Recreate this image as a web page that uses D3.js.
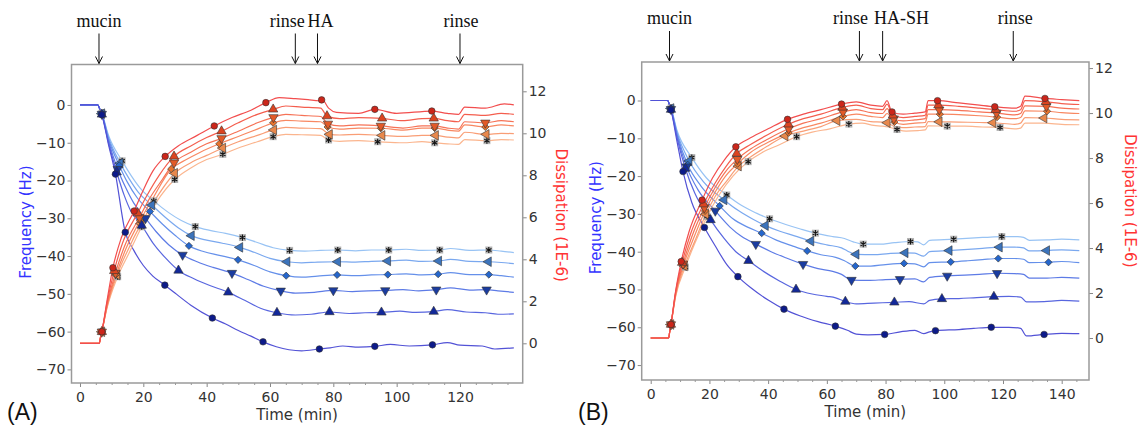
<!DOCTYPE html>
<html>
<head>
<meta charset="utf-8">
<script src="https://cdn.jsdelivr.net/npm/d3@7"></script>
<style>
html, body { margin: 0; padding: 0; background: #fff; }
svg { display: block; font-family: "DejaVu Sans", Verdana, sans-serif; }
</style>
</head>
<body>
<svg id="chart" width="1143" height="427"></svg>
<script>
// ---------- data ----------
// time in min, frequency in Hz, dissipation in 1E-6
// series order: circle, up-triangle, down-triangle, diamond, left-triangle, star

const timeTicksA = [0, 20, 40, 60, 80, 100, 120];
const timeTicksB = [0, 20, 40, 60, 80, 100, 120, 140];
const freqTicks = [0, -10, -20, -30, -40, -50, -60, -70];
const dissTicks = [0, 2, 4, 6, 8, 10, 12];

const eventsA = [
    { t: 6.0, label: 'mucin' }, { t: 68, label: 'rinse' }, { t: 75, label: 'HA' }, { t: 120, label: 'rinse' }
];
const eventsB = [
    { t: 6.4, label: 'mucin' }, { t: 71.1, label: 'rinse' }, { t: 79, label: 'HA-SH' }, { t: 123.5, label: 'rinse' }
];

const freqA = [
    [[0,0],[5.6,0],[6.3,-1.2],[6.9,-2.6],[9,-10.5],[11.2,-18.3],[14.3,-33.7],[17,-38.5],[20,-42.5],[23,-45.3],[26.8,-47.7],[30,-49.8],[35,-53],[41.8,-56.4],[46,-58],[50,-59.7],[54,-61.2],[57.8,-62.7],[62,-64],[66,-64.8],[70,-65.1],[75.6,-64.6],[79,-64.3],[83,-63.8],[88,-64.1],[93.1,-63.9],[98,-63.4],[104,-63.8],[111.3,-63.5],[116,-62.9],[120,-63.6],[127,-63.8],[131,-64.6],[137,-64.3]],
    [[0,0],[5.6,0],[6.3,-1.2],[6.9,-2.5],[9,-10],[11.6,-17.8],[14,-24],[16,-28],[19.5,-31.9],[23,-36.5],[27,-40.5],[31.1,-43.8],[36,-46],[41,-47.8],[46.8,-49.6],[52,-51.7],[57,-53.8],[62.2,-55],[68,-55.6],[73,-55.4],[78.8,-54.8],[85,-55.2],[90,-55],[95.2,-54.9],[101,-54.6],[106,-54.9],[111.7,-54.7],[116,-54.2],[122,-54.8],[128,-55],[132,-55.4],[137,-55.3]],
    [[0,0],[5.6,0],[6.3,-1.2],[6.9,-2.4],[9,-9.5],[11.9,-17],[14.5,-22],[17,-26],[20.7,-30],[24,-33.5],[28,-37],[32.4,-39.7],[37,-41.5],[42,-43],[48,-44.5],[53,-46.2],[58,-48],[63.4,-49.2],[68,-49.8],[74,-49.6],[80,-49.1],[86,-49.4],[91,-49.2],[96.4,-49.1],[102,-48.9],[107,-49.2],[112.5,-48.9],[117,-48.4],[123,-49],[128.4,-48.9],[132,-49.2],[137,-49.6]],
    [[0,0],[5.6,0],[6.3,-1.2],[6.9,-2.4],[9,-9],[12.4,-16],[15,-20.5],[18,-24.5],[22.1,-28.2],[26,-31.5],[30,-34.5],[34.4,-37.3],[39,-38.8],[44,-39.8],[49.9,-41],[55,-42.5],[60,-44.2],[65.1,-45.2],[70,-45.6],[75,-45.3],[81.2,-45],[87,-45.2],[92,-45],[97.2,-44.9],[103,-44.7],[108,-45],[113.1,-44.8],[117,-44.4],[123,-44.9],[129.1,-44.9],[133,-45.2],[137,-45.6]],
    [[0,0],[5.6,0],[6.3,-1.2],[6.9,-2.3],[9,-8.5],[12.7,-15.4],[15.5,-19.5],[18.5,-23.2],[22.7,-26.5],[27,-29.8],[31,-32.5],[35.2,-34.6],[40,-35.8],[45,-36.6],[50.5,-37.7],[55,-39],[60,-40.6],[65.4,-41.5],[70,-41.8],[75,-41.6],[81.4,-41.5],[87,-41.6],[92,-41.4],[97.2,-41.3],[103,-41.1],[108,-41.4],[113.3,-41.3],[117,-40.9],[123,-41.4],[129,-41.5],[133,-41.7],[137,-42]],
    [[0,0],[5.6,0],[6.3,-1.2],[6.9,-2.2],[9,-8],[13.3,-14.8],[16,-18.5],[19,-22],[23.3,-25.4],[28,-28.5],[32,-30.6],[36.4,-32.2],[41,-33.2],[46,-34],[51.3,-35.1],[56,-36.4],[61,-37.8],[66.2,-38.5],[71,-38.7],[76,-38.5],[81.4,-38.4],[87,-38.6],[92,-38.4],[97.5,-38.4],[103,-38.2],[108,-38.5],[113.6,-38.4],[117,-38],[123,-38.5],[129.1,-38.4],[133,-38.7],[137,-39.1]]
];
const freqMarksA = [
    [6.9, 11.2, 14.3, 26.8, 41.8, 57.8, 75.6, 93.1, 111.3],
    [6.9, 11.6, 19.5, 31.1, 46.8, 62.2, 78.8, 95.2, 111.7],
    [6.9, 11.9, 20.7, 32.4, 48, 63.4, 80, 96.4, 112.5, 128.4],
    [6.9, 12.4, 22.1, 34.4, 49.9, 65.1, 81.2, 97.2, 113.1, 129.1],
    [6.9, 12.7, 22.7, 35.2, 50.5, 65.4, 81.4, 97.2, 113.3, 129],
    [6.9, 13.3, 23.3, 36.4, 51.3, 66.2, 81.4, 97.5, 113.6, 129.1]
];
const dissA = [
    [[0,0],[6.1,0],[6.5,0.3],[6.9,0.55],[8.5,2.0],[10.4,3.6],[13,5],[17.1,6.3],[20,7.3],[23,8.2],[26.9,8.9],[31,9.4],[37,9.9],[42.4,10.35],[48,10.75],[54,11.1],[58.7,11.46],[62.9,11.7],[68,11.65],[72,11.6],[75.5,11.55],[76.5,11.6],[78.5,11.2],[81,11.0],[88,10.95],[93.1,11.14],[100,10.95],[111.1,11.06],[116,10.95],[119.5,10.9],[121.5,11.25],[128,11.2],[134,11.4],[137,11.35]],
    [[0,0],[6.1,0],[6.5,0.3],[6.9,0.55],[8.5,1.9],[10.8,3.45],[13.5,4.8],[18.2,6.2],[21,7.0],[25,8.0],[29.7,8.9],[35,9.4],[40,9.8],[44.7,10.1],[50,10.5],[56,10.9],[61,11.14],[65,11.3],[70,11.25],[76,11.2],[78,10.82],[82,10.7],[88,10.75],[95.4,10.71],[102,10.6],[108,10.7],[111.7,10.71],[116,10.6],[119.5,10.55],[121.5,10.9],[128,10.85],[133,10.95],[137,10.9]],
    [[0,0],[6.1,0],[6.5,0.3],[6.9,0.55],[8.5,1.8],[11.2,3.35],[14,4.6],[18.8,6.0],[22,6.9],[26,7.8],[29.7,8.6],[35,9.1],[40,9.5],[44.7,9.76],[50,10.1],[56,10.5],[61.1,10.76],[65,10.9],[70,10.85],[76,10.8],[78.3,10.45],[82,10.35],[88,10.4],[95,10.35],[102,10.25],[108,10.35],[112,10.35],[116,10.25],[119.5,10.2],[121.5,10.55],[128,10.5],[133,10.6],[137,10.55]],
    [[0,0],[6.1,0],[6.5,0.3],[6.9,0.55],[8.5,1.75],[11.5,3.3],[14.5,4.5],[19,5.85],[23,6.9],[28.8,8.3],[33,8.7],[38,9.1],[44,9.5],[50,9.85],[56,10.2],[61,10.5],[65,10.62],[70,10.58],[76,10.55],[78.2,10.3],[82,10.2],[88,10.25],[95,10.24],[102,10.15],[108,10.25],[112,10.25],[116,10.15],[119.5,10.1],[121.5,10.4],[128,10.3],[133,10.4],[137,10.35]],
    [[0,0],[6.1,0],[6.5,0.3],[6.9,0.55],[8.5,1.7],[11.7,3.25],[15,4.4],[19.3,5.7],[24,6.9],[29.9,8.1],[35,8.6],[40,8.95],[45.1,9.3],[50,9.6],[56,9.9],[61.2,10.16],[65,10.28],[70,10.25],[76,10.22],[78.8,9.95],[82,9.92],[88,9.95],[95.4,9.9],[102,9.85],[108,9.9],[112.3,9.9],[116,9.82],[119.5,9.78],[121.5,10.05],[128.3,9.95],[133,10.0],[137,9.98]],
    [[0,0],[6.1,0],[6.5,0.3],[6.9,0.55],[8.5,1.65],[11.9,3.17],[15.5,4.3],[19.5,5.55],[24,6.7],[29.9,7.8],[35,8.35],[40,8.75],[45.1,9.0],[50,9.3],[56,9.6],[61,9.84],[65,9.95],[70,9.93],[76,9.9],[78.5,9.68],[82,9.62],[88,9.65],[94,9.6],[102,9.55],[108,9.6],[112,9.55],[116,9.5],[119.5,9.47],[121.5,9.7],[128.5,9.65],[133,9.7],[137,9.68]]
];
const dissMarksA = [
    [6.9, 10.4, 17.1, 26.9, 42.4, 58.7, 76.3, 93.1, 111.1],
    [6.9, 10.8, 18.2, 29.7, 44.7, 61, 78, 95.4, 111.7],
    [6.9, 11.2, 18.8, 29.7, 44.7, 61.1, 78.3, 95, 112, 128],
    [6.9, 11.5, 19, 28.8, 44, 61, 78.2, 95, 112, 128],
    [6.9, 11.7, 19.3, 29.9, 45.1, 61.2, 78.8, 95.4, 112.3, 128.3],
    [6.9, 11.9, 19.5, 29.9, 45.1, 61, 78.5, 94, 112, 128.5]
];

const freqB = [
    [[0,0],[5.8,0],[6.4,-1.2],[6.9,-2.5],[9,-11],[11,-18.8],[14,-27],[18.3,-33.6],[22,-38.5],[26,-43.5],[29.7,-46.6],[34,-49.5],[40,-52.8],[45.4,-55.2],[51,-57],[57,-58.5],[62.9,-59.7],[67,-60.8],[70,-61.8],[74,-62],[79.7,-61.9],[85,-61.2],[90,-60.8],[93,-61.7],[95,-61.2],[97,-60.9],[105,-60.6],[110,-60.3],[116,-60],[122,-60],[126,-60.3],[128,-62.3],[134,-61.9],[140,-61.6],[146,-61.7]],
    [[0,0],[5.8,0],[6.4,-1.2],[6.9,-2.4],[9,-10],[11.8,-18],[15,-24.5],[20.4,-31.6],[25,-36.5],[29,-40],[33.3,-42.4],[38,-45],[44,-47.8],[49.5,-50],[55,-51.2],[60,-51.8],[63,-52.2],[66.3,-53.2],[70,-53.8],[76,-53.6],[83,-53.4],[88,-53.2],[93,-53.8],[95,-52.9],[99.2,-52.5],[105,-52.4],[110,-52.2],[116.9,-51.9],[122,-51.8],[126,-52],[128,-53.3],[134,-53.2],[140,-52.9],[146,-53.1]],
    [[0,0],[5.8,0],[6.4,-1.2],[6.9,-2.3],[9,-9.5],[12.2,-17.5],[16,-23.5],[22,-29.2],[27,-33.5],[31,-36],[35.8,-38],[41,-40],[46,-41.6],[51.9,-43.3],[57,-44.5],[62,-45.2],[65,-46],[68.4,-47.5],[74,-47.6],[80,-47.4],[84.9,-47.3],[90,-47.2],[93,-48],[95,-46.8],[101,-46.4],[107,-46.2],[112,-46],[118,-45.7],[124,-45.8],[127,-46],[129,-47],[135,-47],[140,-46.8],[146,-47]],
    [[0,0],[5.8,0],[6.4,-1.2],[6.9,-2.2],[9,-9],[12.6,-17],[17,-22.5],[23.5,-27.9],[28,-31.3],[33,-33.5],[37.8,-35.1],[43,-37],[48,-38.4],[53.3,-39.8],[58,-40.8],[63,-41.5],[66,-42.4],[69.7,-43.8],[75,-43.8],[80,-43.4],[86.3,-43.1],[90,-43.2],[93,-44],[95,-42.9],[102.2,-42.7],[108,-42.4],[113,-42.1],[118.4,-41.8],[124,-41.8],[127,-42],[129,-42.9],[135.5,-42.8],[140,-42.6],[146,-42.9]],
    [[0,0],[5.8,0],[6.4,-1.2],[6.9,-2.1],[9,-8.5],[13.1,-16],[18,-21.5],[25,-26.3],[30,-29.2],[35,-31.5],[39.1,-33.1],[44,-34.6],[49,-35.8],[54.6,-37.2],[60,-38.2],[65,-39],[67,-39.8],[70,-40.7],[76,-40.8],[81,-40.5],[86.7,-40.3],[90,-40.4],[93,-41.2],[95,-40],[101.7,-39.7],[108,-39.4],[113,-39.1],[118.8,-38.8],[124,-38.8],[127,-39],[129,-39.8],[134.9,-39.7],[140,-39.5],[146,-39.7]],
    [[0,0],[5.8,0],[6.4,-1.2],[6.9,-2],[9,-8],[14,-15.1],[19,-20.5],[25.9,-25],[31,-27.8],[36,-29.8],[40.5,-31.3],[46,-32.8],[51,-34],[56.1,-35.1],[62,-36],[66,-36.5],[69,-37.4],[72.4,-38],[78,-38],[83,-37.6],[88.5,-37.3],[91,-37.4],[93,-38.2],[95,-37],[103.2,-36.7],[109,-36.4],[114,-36.2],[119.6,-36],[125,-36],[127,-36.2],[129,-37],[135,-36.9],[140,-36.7],[146,-36.9]]
];
const freqMarksB = [
    [6.9, 11, 18.3, 29.7, 45.4, 62.9, 79.7, 97, 116, 134],
    [6.9, 11.8, 20.4, 33.3, 49.5, 66.3, 83, 99.2, 116.9],
    [6.9, 12.2, 22, 35.8, 51.9, 68.4, 84.9, 101, 118],
    [6.9, 12.6, 23.5, 37.8, 53.3, 69.7, 86.3, 102.2, 118.4, 135.5],
    [6.9, 13.1, 25, 39.1, 54.6, 70, 86.7, 101.7, 118.8, 134.9],
    [6.9, 14, 25.9, 40.5, 56.1, 72.4, 88.5, 103.2, 119.6]
];
const dissB = [
    [[0,0],[6.1,0],[6.5,0.3],[6.9,0.6],[8.5,2.1],[10.4,3.4],[13,4.7],[17.5,6.13],[21,7.1],[25,7.9],[29,8.5],[34,8.9],[40,9.3],[46.6,9.72],[52,9.95],[58,10.15],[65,10.4],[70,10.5],[75,10.35],[79,10.3],[80.5,10.55],[82.2,10.05],[86,9.95],[90,10.0],[93.5,10.05],[94.5,10.55],[97.7,10.55],[105,10.45],[112,10.35],[117.2,10.28],[124,10.22],[126,10.3],[127.5,10.75],[134.3,10.65],[140,10.6],[146,10.55]],
    [[0,0],[6.1,0],[6.5,0.3],[6.9,0.6],[8.5,2.05],[10.7,3.35],[13.5,4.6],[18,5.95],[22,6.9],[25.5,7.6],[29.3,8.2],[34,8.6],[40,9.05],[46.9,9.5],[52,9.75],[58,9.95],[65.3,10.25],[70,10.35],[75,10.2],[79,10.15],[80.5,10.4],[82.5,9.9],[86,9.8],[90,9.85],[93.5,9.9],[94.5,10.35],[98,10.35],[105,10.3],[112,10.22],[117.5,10.15],[124,10.08],[126,10.15],[127.5,10.55],[134.6,10.5],[140,10.42],[146,10.38]],
    [[0,0],[6.1,0],[6.5,0.3],[6.9,0.6],[8.5,2.0],[11,3.3],[14,4.5],[18.3,5.8],[22,6.7],[25.5,7.4],[29.5,7.95],[34,8.4],[40,8.85],[47,9.3],[52,9.55],[58,9.75],[65.5,10.05],[70,10.15],[75,10.02],[79,9.98],[80.5,10.2],[82.8,9.75],[86,9.65],[90,9.7],[93.5,9.75],[94.5,10.15],[98.3,10.15],[105,10.12],[112,10.05],[117.8,10.0],[124,9.92],[126,9.98],[127.5,10.32],[134.8,10.3],[140,10.22],[146,10.18]],
    [[0,0],[6.1,0],[6.5,0.3],[6.9,0.6],[8.5,1.95],[11.2,3.25],[14.5,4.4],[18.5,5.65],[22,6.5],[25.5,7.2],[29.6,7.75],[34,8.25],[40,8.7],[47,9.12],[52,9.35],[58,9.55],[65.5,9.85],[70,9.95],[75,9.85],[79,9.8],[80.5,9.98],[83,9.6],[86,9.5],[90,9.55],[93.5,9.58],[94.5,9.95],[98.5,9.95],[105,9.93],[112,9.88],[118,9.82],[124,9.75],[126,9.8],[127.5,10.1],[135,10.08],[140,10.02],[146,9.98]],
    [[0,0],[6.1,0],[6.5,0.3],[6.9,0.6],[8.5,1.9],[11.5,3.2],[15,4.3],[18.8,5.5],[22,6.3],[26,7.0],[29.9,7.64],[34,8.05],[40,8.55],[45.8,8.98],[52,9.2],[58,9.4],[63.5,9.66],[70,9.72],[75,9.62],[79,9.6],[80.6,9.57],[83,9.4],[86,9.35],[90,9.38],[93.5,9.4],[94.5,9.62],[98.3,9.61],[105,9.6],[112,9.58],[116.6,9.57],[124,9.5],[126,9.55],[127.5,9.8],[134,9.78],[140,9.72],[146,9.7]],
    [[0,0],[6.1,0],[6.5,0.3],[6.9,0.6],[8.5,1.85],[11.8,3.15],[15,4.2],[19.2,5.4],[23,6.3],[28,7.2],[33.2,7.84],[38,8.25],[44,8.6],[49.7,8.95],[55,9.15],[61,9.3],[67.5,9.51],[72,9.55],[76,9.45],[79,9.42],[81,9.38],[83.9,9.27],[87,9.2],[91,9.22],[93.5,9.25],[94.5,9.43],[101,9.42],[107,9.42],[113,9.38],[119,9.36],[124,9.3],[126,9.33],[127.5,9.55],[134,9.55],[140,9.5],[146,9.48]]
];
const dissMarksB = [
    [6.9, 10.4, 17.5, 29, 46.6, 65, 82.2, 97.7, 117.2, 134.3],
    [6.9, 10.7, 18, 29.3, 46.9, 65.3, 82.5, 98, 117.5, 134.6],
    [6.9, 11, 18.3, 29.5, 47, 65.5, 82.8, 98.3, 117.8, 134.8],
    [6.9, 11.2, 18.5, 29.6, 47, 65.5, 83, 98.5, 118, 135],
    [6.9, 11.5, 18.8, 29.9, 45.8, 63.5, 80.6, 98.3, 116.6, 134],
    [6.9, 11.8, 19.2, 33.2, 49.7, 67.5, 83.9, 101, 119]
];

// ---------- styles ----------
const freqLineColors = ['#5252d6', '#5866df', '#5d7be6', '#6590ea', '#7aa8ef', '#98c3f4'];
const freqMarkColors = ['#0c1a8a', '#12289a', '#1a3ca0', '#2566cc', '#3c74bc', null];
const dissLineColors = ['#f24e4e', '#f45e4e', '#f67256', '#f88862', '#f99e76', '#fbb58e'];
const dissMarkColors = ['#cc261a', '#dc4420', '#e25a28', '#e8742e', '#e8884c', null];

const svg = d3.select('#chart');

function markerShape(i) {
    if (i === 0) return { type: d3.symbolCircle, rot: 0, size: 34 };
    if (i === 1) return { type: d3.symbolTriangle, rot: 0, size: 38 };
    if (i === 2) return { type: d3.symbolTriangle, rot: 180, size: 38 };
    if (i === 3) return { type: d3.symbolSquare, rot: 45, size: 26 };
    if (i === 4) return { type: d3.symbolTriangle, rot: -90, size: 40 };
    return null;
}

function valueAt(series, t) {
    const i = d3.bisector(d => d[0]).left(series, t);
    if (i <= 0) return series[0][1];
    if (i >= series.length) return series[series.length - 1][1];
    const a = series[i - 1], b = series[i];
    return a[1] + (b[1] - a[1]) * (t - a[0]) / (b[0] - a[0]);
}

function drawMarkers(g, series, times, i, color, x, y) {
    times.forEach(t => {
        const px = x(t), py = y(valueAt(series, t));
        const s = markerShape(i);
        if (s) {
            g.append('path')
                .attr('d', d3.symbol().type(s.type).size(s.size)())
                .attr('transform', `translate(${px},${py}) rotate(${s.rot})`)
                .attr('fill', color)
                .attr('stroke', '#333')
                .attr('stroke-width', 0.6);
        } else {
            g.append('rect')
                .attr('x', px - 3.5).attr('y', py - 3.5)
                .attr('width', 7).attr('height', 7)
                .attr('fill', '#a8a8a8').attr('opacity', 0.85);
            g.append('path')
                .attr('d', d3.symbol().type(d3.symbolAsterisk).size(26)())
                .attr('transform', `translate(${px},${py})`)
                .attr('fill', 'none')
                .attr('stroke', '#111')
                .attr('stroke-width', 1.1);
        }
    });
}

function drawPanel(p) {
    const g = svg.append('g');

    const x = d3.scaleLinear().domain(p.tDomain).range([p.left, p.right]);
    const yF = d3.scaleLinear().domain(p.fDomain).range([p.bottom, p.top]);
    const yD = d3.scaleLinear().domain(p.dDomain).range([p.bottom, p.top]);

    // axes
    const ax = g.append('g')
        .attr('transform', `translate(0,${p.bottom})`)
        .call(d3.axisBottom(x).tickValues(p.timeTicks).tickSize(4).tickPadding(5).tickFormat(d3.format('d')));
    g.append('g')
        .attr('transform', `translate(0,${p.bottom})`)
        .call(d3.axisBottom(x).tickValues(d3.range(5, p.tDomain[1], 5).filter(v => v % 20 !== 0)).tickSize(2).tickFormat(''))
        .call(s => s.select('.domain').remove())
        .selectAll('line').attr('stroke', '#999');
    const al = g.append('g')
        .attr('transform', `translate(${p.left},0)`)
        .call(d3.axisLeft(yF).tickValues(freqTicks).tickSize(4).tickPadding(2));
    const ar = g.append('g')
        .attr('transform', `translate(${p.right},0)`)
        .call(d3.axisRight(yD).tickValues(dissTicks).tickSize(4).tickPadding(2));
    [ax, al, ar].forEach(a => {
        a.select('.domain').remove();
        a.selectAll('line').attr('stroke', '#888');
        a.selectAll('text')
            .attr('fill', '#333')
            .style('font-size', '14px')
            .style('font-family', '"DejaVu Sans", Verdana, sans-serif');
    });

    // frame
    g.append('rect')
        .attr('x', p.left).attr('y', p.top)
        .attr('width', p.right - p.left).attr('height', p.bottom - p.top)
        .attr('fill', 'none').attr('stroke', '#9a9a9a').attr('stroke-width', 1.5);

    // lines (lightest first so darker curves sit on top)
    const lineF = d3.line().x(d => x(d[0])).y(d => yF(d[1])).curve(d3.curveMonotoneX);
    const lineD = d3.line().x(d => x(d[0])).y(d => yD(d[1])).curve(d3.curveMonotoneX);
    for (let i = 5; i >= 0; i--) {
        g.append('path').attr('d', lineF(p.freq[i]))
            .attr('fill', 'none').attr('stroke', freqLineColors[i]).attr('stroke-width', 1.2);
    }
    for (let i = 5; i >= 0; i--) {
        g.append('path').attr('d', lineD(p.diss[i]))
            .attr('fill', 'none').attr('stroke', dissLineColors[i]).attr('stroke-width', 1.2);
    }

    // markers
    for (let i = 5; i >= 0; i--) {
        drawMarkers(g, p.freq[i], p.freqMarks[i], i, freqMarkColors[i], x, yF);
        drawMarkers(g, p.diss[i], p.dissMarks[i], i, dissMarkColors[i], x, yD);
    }

    // axis titles
    g.append('text')
        .attr('transform', `translate(${p.left - 46},${yF(-31)}) rotate(-90)`)
        .attr('text-anchor', 'middle').attr('dy', '0.35em')
        .attr('fill', '#3333ff').style('font-size', '15px')
        .text('Frequency (Hz)');
    g.append('text')
        .attr('transform', `translate(${p.right + p.dissTitleGap},${yD(6.1)}) rotate(90)`)
        .attr('text-anchor', 'middle').attr('dy', '0.35em')
        .attr('fill', '#ff3333').style('font-size', '15px')
        .text('Dissipation (1E-6)');
    g.append('text')
        .attr('x', (p.left + p.right) / 2).attr('y', p.bottom + 37)
        .attr('text-anchor', 'middle')
        .attr('fill', '#333').style('font-size', '15px')
        .text('Time (min)');

    // panel letter
    g.append('text')
        .attr('x', p.letterX).attr('y', p.letterY)
        .attr('fill', '#111')
        .style('font-family', '"Liberation Sans", Arial, sans-serif')
        .style('font-size', '23px')
        .text(p.letter);

    // event arrows
    p.events.forEach((e, i) => {
        const ex = x(e.t);
        g.append('line')
            .attr('x1', ex).attr('x2', ex)
            .attr('y1', p.top - 31).attr('y2', p.top - 1)
            .attr('stroke', '#111').attr('stroke-width', 1);
        g.append('path')
            .attr('d', `M${ex - 3.5},${p.top - 8} L${ex},${p.top - 1} L${ex + 3.5},${p.top - 8}`)
            .attr('fill', 'none').attr('stroke', '#111').attr('stroke-width', 1);
        g.append('text')
            .attr('x', ex + p.labelShift[i]).attr('y', p.top - 38)
            .attr('text-anchor', 'middle')
            .attr('fill', '#111')
            .style('font-family', '"Liberation Serif", "Times New Roman", serif')
            .style('font-size', '18px')
            .text(e.label);
    });
}

drawPanel({
    left: 71.5, right: 522.7, top: 64.5, bottom: 383,
    tDomain: [-2.68, 139.8], fDomain: [-73.6, 10.71], dDomain: [-1.89, 13.276],
    timeTicks: timeTicksA,
    freq: freqA, freqMarks: freqMarksA, diss: dissA, dissMarks: dissMarksA,
    events: eventsA, labelShift: [0, -8, 3, 1],
    dissTitleGap: 39, letter: '(A)', letterX: 7, letterY: 420
});

drawPanel({
    left: 641.7, right: 1089, top: 62, bottom: 380,
    tDomain: [-3.07, 149.3], fDomain: [-73.95, 10.19], dDomain: [-1.867, 12.27],
    timeTicks: timeTicksB,
    freq: freqB, freqMarks: freqMarksB, diss: dissB, dissMarks: dissMarksB,
    events: eventsB, labelShift: [0, -9, 19, 2],
    dissTitleGap: 41, letter: '(B)', letterX: 578, letterY: 420
});
</script>
</body>
</html>
